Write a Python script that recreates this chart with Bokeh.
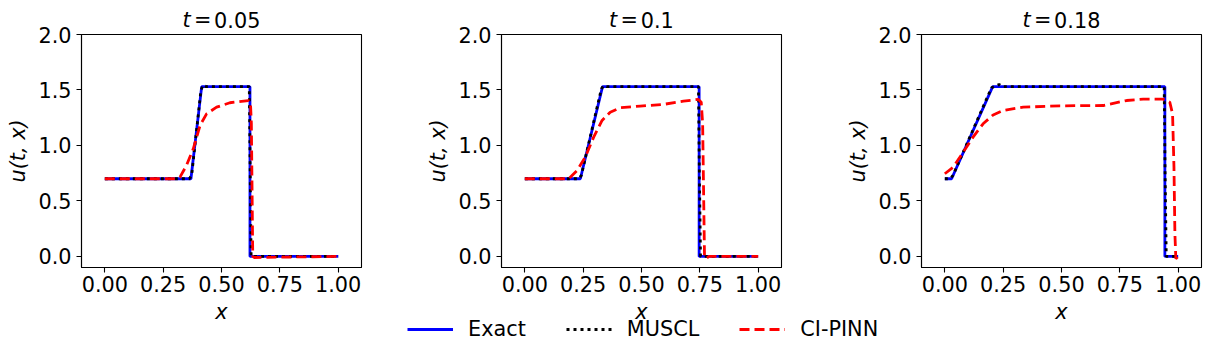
from bokeh.plotting import figure
from bokeh.models import (Range1d, FixedTicker, PrintfTickFormatter, Label,
                          Legend, LegendItem, ColumnDataSource)
from bokeh.layouts import row, column
from bokeh.embed import file_html
from bokeh.resources import INLINE

# ---------------- data ----------------
times = ["0.05", "0.1", "0.18"]

x_exact_1 = [0.0, 0.369, 0.415, 0.622, 0.622, 1.0]
u_exact_1 = [0.7, 0.7, 1.53, 1.53, 0.0, 0.0]
x_exact_2 = [0.0, 0.238, 0.333, 0.747, 0.747, 1.0]
u_exact_2 = [0.7, 0.7, 1.53, 1.53, 0.0, 0.0]
x_exact_3 = [0.0, 0.029, 0.205, 0.943, 0.943, 1.0]
u_exact_3 = [0.7, 0.7, 1.53, 1.53, 0.0, 0.0]

x_muscl_1 = [0.0, 0.362, 0.372, 0.412, 0.422, 0.435, 0.619, 0.623, 0.627, 1.0]
u_muscl_1 = [0.7, 0.7, 0.73, 1.50, 1.545, 1.53, 1.53, 0.75, 0.0, 0.0]
x_muscl_2 = [0.0, 0.232, 0.242, 0.328, 0.338, 0.35, 0.744, 0.748, 0.753, 1.0]
u_muscl_2 = [0.7, 0.7, 0.73, 1.51, 1.54, 1.53, 1.53, 0.75, 0.0, 0.0]
x_muscl_3 = [0.0, 0.022, 0.035, 0.200, 0.233, 0.248, 0.940, 0.944, 0.949, 1.0]
u_muscl_3 = [0.7, 0.7, 0.73, 1.52, 1.55, 1.53, 1.53, 0.75, 0.0, 0.0]

x_pinn_1 = [0.0, 0.30, 0.322, 0.35, 0.379, 0.408, 0.436, 0.479, 0.536, 0.615,
            0.624, 0.628, 0.631, 0.634, 0.64, 1.0]
u_pinn_1 = [0.7, 0.7, 0.714, 0.82, 0.97, 1.18, 1.285, 1.345, 1.385, 1.405,
            1.39, 1.2, 0.6, 0.0, -0.01, 0.0]
x_pinn_2 = [0.0, 0.188, 0.224, 0.259, 0.295, 0.331, 0.366, 0.409, 0.494, 0.594,
            0.68, 0.744, 0.756, 0.762, 0.766, 0.770, 0.776, 0.79, 1.0]
u_pinn_2 = [0.7, 0.7, 0.775, 0.895, 1.075, 1.225, 1.30, 1.34, 1.355, 1.37,
            1.40, 1.415, 1.39, 1.2, 0.6, 0.0, -0.02, 0.0, 0.0]
x_pinn_3 = [0.0, 0.036, 0.079, 0.121, 0.164, 0.207, 0.25, 0.336, 0.493, 0.679,
            0.779, 0.85, 0.936, 0.964, 0.976, 0.982, 0.986, 0.99, 1.0]
u_pinn_3 = [0.745, 0.805, 0.94, 1.075, 1.195, 1.275, 1.315, 1.345, 1.357, 1.36,
            1.405, 1.417, 1.417, 1.39, 1.285, 0.805, 0.205, -0.02, 0.0]

x_ticks = [0.0, 0.25, 0.5, 0.75, 1.0]
y_ticks = [0.0, 0.5, 1.0, 1.5, 2.0]
series_names = ["Exact", "MUSCL", "CI-PINN"]
x_label = "x"
y_label = "u(t, x)"

exact = [(x_exact_1, u_exact_1), (x_exact_2, u_exact_2), (x_exact_3, u_exact_3)]
muscl = [(x_muscl_1, u_muscl_1), (x_muscl_2, u_muscl_2), (x_muscl_3, u_muscl_3)]
pinn = [(x_pinn_1, u_pinn_1), (x_pinn_2, u_pinn_2), (x_pinn_3, u_pinn_3)]

# ---------------- styling / layout ----------------
FONT = "DejaVu Sans"
FS = "20.8px"
FSPX = 20.8
LW = 2.8
BLUE, BLACK, RED = "#0000ff", "#000000", "#ff0000"
DOT, DASH = "3 4", "10 5"

TOTAL_W = 1206
PANEL_STEP = 420
BORDER_L = 81
FRAME_W, FRAME_H = 280, 233
BORDER_T, BORDER_B = 13, 33
TOP_H = 36           # title strip height
OVERLAP = 15         # panels start 15px above the end of the title strip
BOT_H = 55
LABEL_FIX = 6.5      # measured vertical correction for alphabetic labels
FRAME_CENTERS = [BORDER_L + FRAME_W / 2 + k * PANEL_STEP for k in range(3)]

ADV = {"0": 0.636, "1": 0.636, "2": 0.636, "3": 0.636, "4": 0.636, "5": 0.636,
       "6": 0.636, "7": 0.636, "8": 0.636, "9": 0.636, ".": 0.318}


def strip(height):
    s = figure(width=TOTAL_W, height=height, title=None,
               x_range=Range1d(0, TOTAL_W), y_range=Range1d(0, height),
               x_axis_location=None, y_axis_location=None,
               min_border_left=0, min_border_right=0, min_border_top=0,
               min_border_bottom=0, toolbar_location=None, output_backend="svg")
    s.grid.visible = False
    s.outline_line_color = None
    s.background_fill_color = None
    s.border_fill_color = None
    return s


def make_panel(i):
    last = (i == 2)
    right = 5 if last else PANEL_STEP - BORDER_L - FRAME_W
    p = figure(width=BORDER_L + FRAME_W + right,
               height=BORDER_T + FRAME_H + BORDER_B, title=None,
               x_range=Range1d(-0.1, 1.1), y_range=Range1d(-0.1, 2.0),
               min_border_left=BORDER_L, min_border_right=right,
               min_border_top=BORDER_T, min_border_bottom=BORDER_B,
               toolbar_location=None, output_backend="svg")
    p.grid.visible = False
    p.outline_line_color = "black"
    p.outline_line_width = 1.1
    p.background_fill_color = "white"
    p.border_fill_color = None

    for ax in (p.xaxis[0], p.yaxis[0]):
        ax.axis_line_color = "black"
        ax.axis_line_width = 1.1
        ax.major_tick_in = 0
        ax.major_tick_out = 5
        ax.major_tick_line_width = 1.1
        ax.minor_tick_line_color = None
        ax.major_label_text_font = FONT
        ax.major_label_text_font_size = FS
        ax.major_label_text_color = "black"
    p.xaxis[0].ticker = FixedTicker(ticks=x_ticks)
    p.xaxis[0].formatter = PrintfTickFormatter(format="%.2f")
    p.xaxis[0].major_label_standoff = 3
    p.yaxis[0].ticker = FixedTicker(ticks=y_ticks)
    p.yaxis[0].formatter = PrintfTickFormatter(format="%.1f")
    p.yaxis[0].major_label_standoff = 5
    p.yaxis[0].axis_label = y_label
    p.yaxis[0].axis_label_text_font = FONT
    p.yaxis[0].axis_label_text_font_size = FS
    p.yaxis[0].axis_label_text_font_style = "italic"
    p.yaxis[0].axis_label_text_color = "black"
    p.yaxis[0].axis_label_standoff = 5

    xe, ue = exact[i]
    xm, um = muscl[i]
    xp, up = pinn[i]
    p.line(xe, ue, line_color=BLUE, line_width=LW)
    p.line(xm, um, line_color=BLACK, line_width=LW, line_dash=DOT)
    p.line(xp, up, line_color=RED, line_width=LW, line_dash=DASH)
    return p


panels = [make_panel(i) for i in range(3)]

# ---------------- title strip ("t = value", italic t) ----------------
top = strip(TOP_H)
baseline_from_bottom = TOP_H - 26   # title baseline sits 26px below the top
for i, num in enumerate(times):
    num_w = sum(ADV[c] for c in num) * FSPX
    cx = FRAME_CENTERS[i] + (2.226 * FSPX - num_w) / 2.0
    common = dict(y=baseline_from_bottom + LABEL_FIX, text_baseline="alphabetic",
                  text_align="left", text_font=FONT, text_font_size=FS,
                  text_color="black")
    top.add_layout(Label(text="t", x=cx - 39, text_font_style="italic", **common))
    top.add_layout(Label(text="=", x=cx - 27.5, **common))
    top.add_layout(Label(text=num, x=cx - 7.4, **common))

# ---------------- bottom strip: x labels + legend ----------------
bot = strip(BOT_H)
for i in range(3):
    bot.add_layout(Label(text=x_label, x=FRAME_CENTERS[i],
                         y=BOT_H - 18 + LABEL_FIX,
                         text_baseline="alphabetic", text_align="center",
                         text_font=FONT, text_font_size=FS,
                         text_font_style="italic", text_color="black"))

nan = float("nan")
dummy = ColumnDataSource(data=dict(x=[nan, nan], y=[nan, nan]))
r1 = bot.line("x", "y", source=dummy, line_color=BLUE, line_width=LW)
r2 = bot.line("x", "y", source=dummy, line_color=BLACK, line_width=LW, line_dash=DOT)
r3 = bot.line("x", "y", source=dummy, line_color=RED, line_width=LW, line_dash=DASH)
legend = Legend(items=[LegendItem(label=series_names[0], renderers=[r1]),
                       LegendItem(label=series_names[1], renderers=[r2]),
                       LegendItem(label=series_names[2], renderers=[r3])],
                orientation="horizontal", location=(407, 14),
                glyph_width=46, glyph_height=20, label_standoff=15,
                spacing=40, padding=0, margin=0,
                border_line_color=None, background_fill_alpha=0,
                label_text_font=FONT, label_text_font_size=FS,
                label_text_color="black")
bot.add_layout(legend, "center")

panel_row = row(*panels, margin=(-OVERLAP, 0, 0, 0))
layout = column(top, panel_row, bot)

open("out.html", "w").write(file_html(layout, INLINE))
